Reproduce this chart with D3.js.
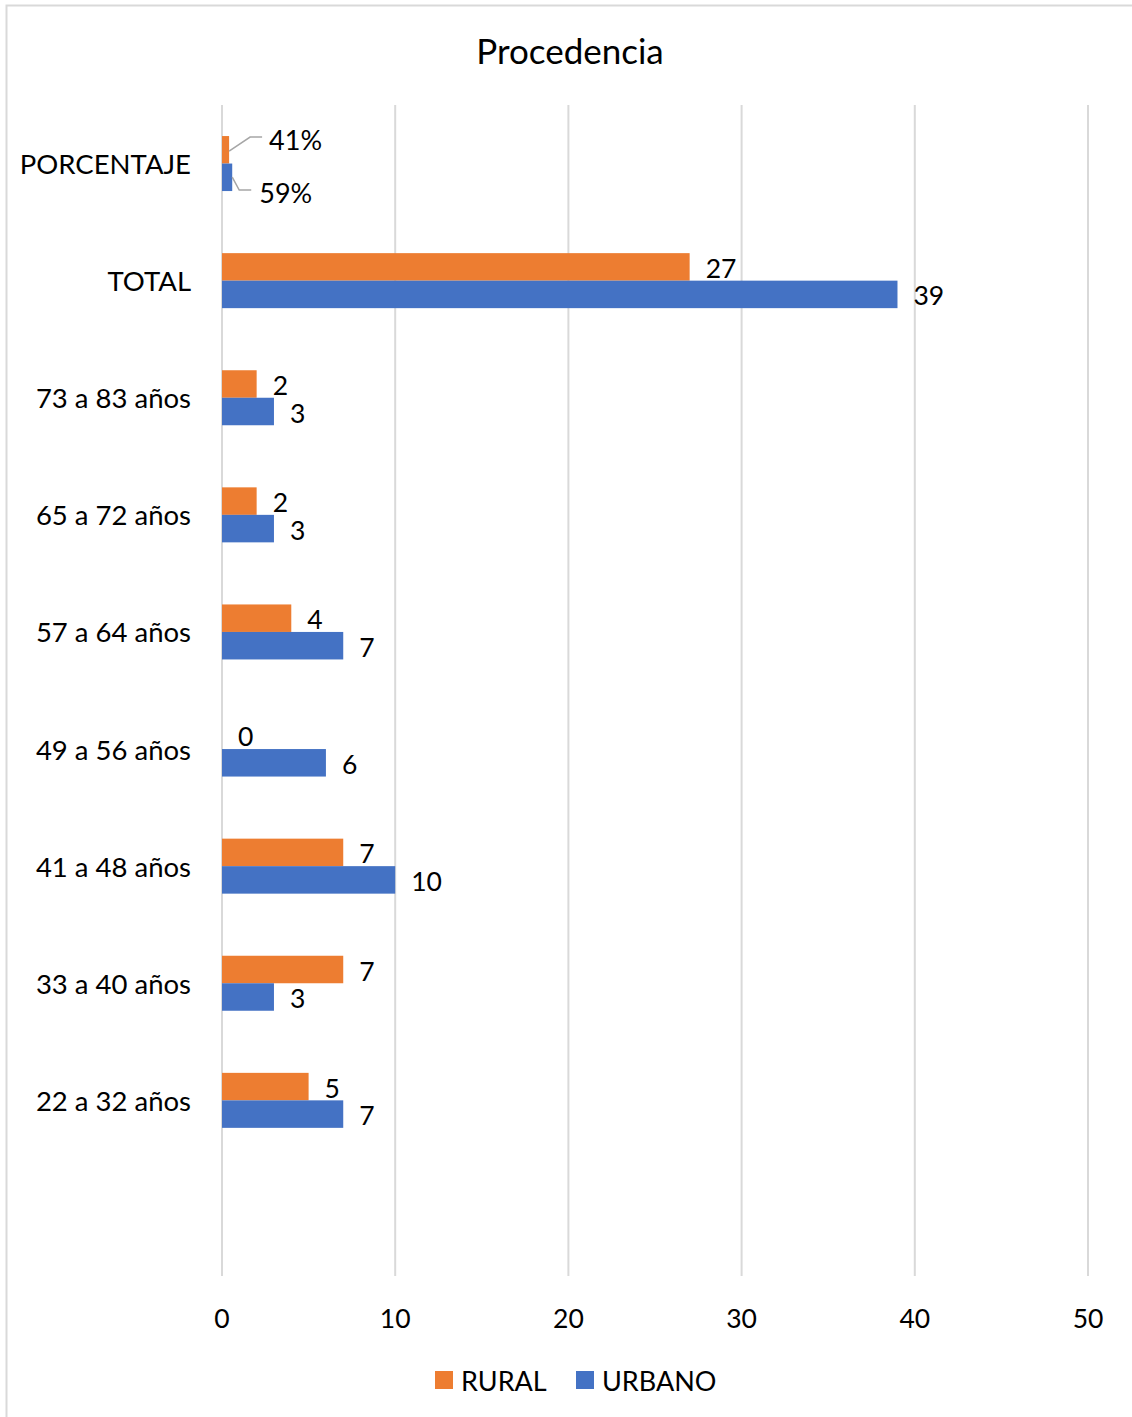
<!DOCTYPE html>
<html><head><meta charset="utf-8">
<script src="https://cdn.jsdelivr.net/npm/d3@7"></script>
<style>body{margin:0;background:#fff}svg{display:block;font-family:Lato,"Open Sans",sans-serif}</style>
</head><body><svg id="c" width="1132" height="1417"></svg>
<script>
const categories = ["PORCENTAJE","TOTAL","73 a 83 años","65 a 72 años","57 a 64 años","49 a 56 años","41 a 48 años","33 a 40 años","22 a 32 años",""];
const rural  = [0.41,27,2,2,4,0,7,7,5,null];
const urbano = [0.59,39,3,3,7,6,10,3,7,null];
const ruralLabels  = ["41%","27","2","2","4","0","7","7","5",""];
const urbanoLabels = ["59%","39","3","3","7","6","10","3","7",""];
const seriesNames = ["RURAL","URBANO"];
const colors = ["#ED7D31","#4472C4"];
const xTicks = [0,10,20,30,40,50];

const svg = d3.select("#c");
const W=1132,H=1417;
svg.append("rect").attr("x",6.5).attr("y",5.5).attr("width",W+10).attr("height",H+10).attr("fill","#fff").attr("stroke","#D9D9D9").attr("stroke-width",2);

const x = d3.scaleLinear().domain([0,50]).range([222,1088]);
const y = d3.scaleBand().domain(categories).range([105,1276]).padding(0);
const groupH = 55;
const sub = d3.scaleBand().domain([0,1]).range([0,groupH]);

svg.append("g").selectAll("line").data(xTicks).join("line")
  .attr("x1",d=>x(d)).attr("x2",d=>x(d)).attr("y1",105).attr("y2",1276)
  .attr("stroke","#D9D9D9").attr("stroke-width",2);

svg.append("g").selectAll("text").data(xTicks).join("text")
  .attr("x",d=>x(d)).attr("y",1318).attr("text-anchor","middle").attr("dominant-baseline","central")
  .attr("font-size",26.5).attr("fill","#000").text(d=>d);

svg.append("g").selectAll("text").data(categories).join("text")
  .attr("x",191).attr("y",d=>y(d)+y.bandwidth()/2).attr("text-anchor","end").attr("dominant-baseline","central")
  .attr("font-size",27.5).attr("fill","#000").text(d=>d);

const series=[rural,urbano], labels=[ruralLabels,urbanoLabels];
series.forEach((vals,s)=>{
  const g=svg.append("g");
  const rows = categories.map((c,i)=>({c,v:vals[i],l:labels[s][i],i})).filter(d=>d.v!==null);
  g.selectAll("rect").data(rows).join("rect")
    .attr("x",x(0)).attr("width",d=>x(d.v)-x(0))
    .attr("y",d=>y(d.c)+(y.bandwidth()-groupH)/2+sub(s)).attr("height",sub.bandwidth())
    .attr("fill",colors[s]);
  g.selectAll("text").data(rows.filter(d=>d.i>0)).join("text")
    .attr("x",d=>x(d.v)+16).attr("y",d=>y(d.c)+(y.bandwidth()-groupH)/2+sub(s)+sub.bandwidth()/2+1)
    .attr("dominant-baseline","central").attr("font-size",26.5).attr("fill","#000").text(d=>d.l);
});

const pc = categories[0];
const top0 = y(pc)+(y.bandwidth()-groupH)/2;
const rx = x(rural[0]), ux = x(urbano[0]);
svg.append("path").attr("d",`M${rx},${top0+15} L${rx+21},${top0+1} L${rx+33},${top0+1}`)
  .attr("fill","none").attr("stroke","#A6A6A6").attr("stroke-width",1.5);
svg.append("text").attr("x",rx+40).attr("y",top0+3).attr("dominant-baseline","central")
  .attr("font-size",27).text(ruralLabels[0]);
svg.append("path").attr("d",`M${ux},${top0+41} L${ux+7},${top0+54} L${ux+19},${top0+54}`)
  .attr("fill","none").attr("stroke","#A6A6A6").attr("stroke-width",1.5);
svg.append("text").attr("x",ux+27).attr("y",top0+56).attr("dominant-baseline","central")
  .attr("font-size",27).text(urbanoLabels[0]);

svg.append("text").attr("x",570).attr("y",50).attr("text-anchor","middle").attr("dominant-baseline","central")
  .attr("font-size",35).text("Procedencia");

const lg = svg.append("g");
const lx=[435,576];
seriesNames.forEach((n,i)=>{
  lg.append("rect").attr("x",lx[i]).attr("y",1371).attr("width",18).attr("height",18).attr("fill",colors[i]);
  lg.append("text").attr("x",lx[i]+26).attr("y",1380).attr("dominant-baseline","central").attr("font-size",27).text(n);
});
</script></body></html>
